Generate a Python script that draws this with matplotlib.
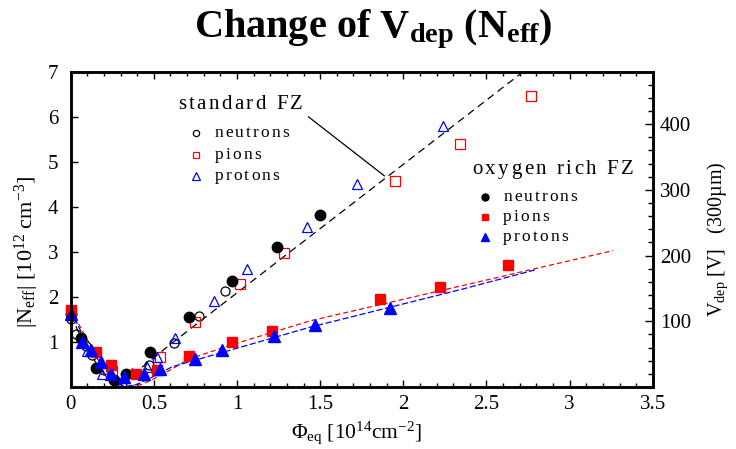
import numpy as np
import matplotlib.pyplot as plt
from matplotlib.ticker import MultipleLocator, FixedLocator, FuncFormatter
from matplotlib.font_manager import FontProperties, findfont, get_font

plt.rcParams['font.family'] = ['Liberation Serif', 'DejaVu Serif']
plt.rcParams['mathtext.fontset'] = 'custom'
plt.rcParams['mathtext.rm'] = 'Liberation Serif'
plt.rcParams['mathtext.it'] = 'Liberation Serif:italic'
plt.rcParams['mathtext.bf'] = 'Liberation Serif:bold'

# fluence in 1e14 cm^-2, |Neff| in 1e12 cm^-3
# standard FZ (open symbols)
std_neu_x = [0.0, 0.03, 0.09, 0.13, 0.2, 0.31, 0.47, 0.62, 0.77, 0.93]
std_neu_y = [1.50, 1.18, 0.92, 0.72, 0.38, 0.09, 0.50, 0.98, 1.57, 2.14]
std_pio_x = [0.0, 0.25, 0.54, 0.75, 1.02, 1.28, 1.95, 2.34, 2.77]
std_pio_y = [1.68, 0.36, 0.66, 1.45, 2.29, 2.98, 4.58, 5.40, 6.47]
std_pro_x = [0.0, 0.1, 0.19, 0.28, 0.37, 0.46, 0.52, 0.63, 0.86, 1.06, 1.42, 1.72, 2.24]
std_pro_y = [1.72, 0.80, 0.30, 0.14, 0.32, 0.45, 0.66, 1.08, 1.90, 2.62, 3.55, 4.50, 5.80]

# oxygen rich FZ (filled symbols)
oxy_neu_x = [0.0, 0.06, 0.15, 0.26, 0.33, 0.48, 0.71, 0.97, 1.24, 1.50]
oxy_neu_y = [1.62, 1.08, 0.42, 0.16, 0.28, 0.78, 1.55, 2.35, 3.10, 3.82]
oxy_pio_x = [0.0, 0.15, 0.24, 0.39, 0.52, 0.71, 0.97, 1.21, 1.86, 2.22, 2.63]
oxy_pio_y = [1.72, 0.78, 0.48, 0.30, 0.38, 0.68, 1.00, 1.25, 1.96, 2.22, 2.70]
oxy_pro_x = [0.0, 0.07, 0.12, 0.18, 0.24, 0.32, 0.44, 0.54, 0.75, 0.91, 1.22, 1.47, 1.92]
oxy_pro_y = [1.62, 1.00, 0.82, 0.55, 0.30, 0.22, 0.28, 0.40, 0.62, 0.82, 1.14, 1.38, 1.75]

# fit curves
fit_std_x = [0.0, 0.05, 0.1, 0.15, 0.2, 0.25, 0.3, 0.35, 0.45, 0.6, 2.72]
fit_std_y = [1.60, 1.20, 0.85, 0.55, 0.30, 0.15, 0.12, 0.22, 0.50, 0.95, 7.0]
fit_pio_x = [0.0, 0.1, 0.2, 0.3, 0.36, 0.42, 0.5, 0.6, 0.71, 0.96, 1.44, 2.34, 3.26]
fit_pio_y = [1.72, 1.05, 0.48, 0.12, 0.03, 0.05, 0.18, 0.38, 0.62, 0.93, 1.47, 2.24, 3.03]
fit_pro_x = [0.0, 0.1, 0.2, 0.28, 0.33, 0.4, 0.48, 0.61, 0.96, 1.44, 2.34, 2.79]
fit_pro_y = [1.70, 0.95, 0.42, 0.08, 0.01, 0.06, 0.20, 0.45, 0.82, 1.33, 2.16, 2.60]

V_PER_UNIT = 68.5  # V per 1e12 cm^-3 for a 300 um thick sensor

fig = plt.figure(figsize=(7.36, 4.49), dpi=100)
ax = fig.add_axes([0.096, 0.138, 0.791, 0.702])

ax.plot(fit_std_x, fit_std_y, color='black', lw=0.9, dashes=(6, 4))
ax.plot(fit_pio_x, fit_pio_y, color='red', lw=0.9, dashes=(4, 2.5))
ax.plot(fit_pro_x, fit_pro_y, color='blue', lw=0.9, dashes=(5, 2))

ax.plot(std_neu_x, std_neu_y, 'o', mfc='none', mec='black', ms=6.5, mew=0.9, clip_on=False)
ax.plot(std_pio_x, std_pio_y, 's', mfc='none', mec='red', ms=7, mew=0.9, clip_on=False)
ax.plot(std_pro_x, std_pro_y, '^', mfc='none', mec='blue', ms=7.5, mew=0.9, clip_on=False)
ax.plot(oxy_neu_x, oxy_neu_y, 'o', color='black', ms=7.5, clip_on=False)
ax.plot(oxy_pio_x, oxy_pio_y, 's', color='red', ms=7.5, clip_on=False)
ax.plot(oxy_pro_x, oxy_pro_y, '^', color='blue', ms=8, clip_on=False)

ax.set_xlim(0, 3.5)
ax.set_ylim(0, 7)
ax.xaxis.set_major_locator(MultipleLocator(0.5))
ax.xaxis.set_minor_locator(MultipleLocator(0.1))
ax.xaxis.set_major_formatter(FuncFormatter(lambda v, pos: f'{v:g}'))
ax.yaxis.set_major_locator(FixedLocator([1, 2, 3, 4, 5, 6, 7]))
ax.tick_params(which='both', direction='in', top=True, right=False, labelsize=15, width=1)
ax.tick_params(which='major', length=5)
ax.tick_params(which='minor', length=3)
ax.tick_params(axis='y', pad=9)
ax.tick_params(axis='x', pad=6)
for sp in ax.spines.values():
    sp.set_linewidth(1.8)

ax2 = ax.twinx()
ax2.set_ylim(0, 7 * V_PER_UNIT)
ax2.yaxis.set_major_locator(FixedLocator([100, 200, 300, 400]))
ax2.yaxis.set_minor_locator(MultipleLocator(20))
ax2.tick_params(which='both', direction='in', labelsize=15, width=1, pad=5)
ax2.tick_params(which='major', length=6)
ax2.tick_params(which='minor', length=3.5)
for sp in ax2.spines.values():
    sp.set_linewidth(1.8)

ax.set_ylabel(r'|N$_{\rm eff}$| [10$^{12}$ cm$^{-3}$]', fontsize=16, va='center')
ax.yaxis.set_label_coords(-0.075, 0.43)
ax.set_xlabel(r'$\Phi_{\rm eq}$ [10$^{14}$cm$^{-2}$]', fontsize=15.5, va='center')
ax.xaxis.set_label_coords(0.49, -0.145)
ax2.set_ylabel(r'V$_{\rm dep}$ [V]   (300µm)', fontsize=14.5, va='center')
ax2.yaxis.set_label_coords(1.112, 0.47)

fig.text(0.507, 0.935, r'Change of V$_{\mathbf{dep}}$ (N$_{\mathbf{eff}}$)',
         fontsize=29, fontweight='bold', ha='center', va='center')


def spaced(x, y, s, size, track=1.8):
    # letters placed one by one with extra spacing
    fp = FontProperties(family='Liberation Serif', size=size)
    font = get_font(findfont(fp))
    font.set_size(size, 72)
    off = 0.0
    for ch in s:
        ax.annotate(ch, (x, y), xytext=(off, 0), textcoords='offset points',
                    fontsize=size, ha='left', va='center')
        off += font.load_char(ord(ch)).linearHoriAdvance / 65536 + track


# standard FZ key
spaced(0.644, 6.27, 'standard FZ', 15)
ax.plot([1.43, 1.886], [6.0, 4.69], color='black', lw=0.9)
ax.plot([0.756], [5.64], 'o', mfc='none', mec='black', ms=4.5, mew=0.9)
ax.plot([0.756], [5.16], 's', mfc='none', mec='red', ms=5, mew=0.9)
ax.plot([0.756], [4.69], '^', mfc='none', mec='blue', ms=5.5, mew=0.9)
for yy, name in zip([5.64, 5.16, 4.69], ['neutrons', 'pions', 'protons']):
    spaced(0.866, yy, name, 12.5, 1.5)

# oxygen rich FZ key
spaced(2.415, 4.84, 'oxygen rich FZ', 15)
ax.plot([2.49], [4.23], 'o', color='black', ms=5)
ax.plot([2.49], [3.78], 's', color='red', ms=5)
ax.plot([2.49], [3.34], '^', color='blue', ms=5.5)
for yy, name in zip([4.23, 3.78, 3.34], ['neutrons', 'pions', 'protons']):
    spaced(2.60, yy, name, 12.5, 1.5)

fig.savefig('out.png', dpi=100)
